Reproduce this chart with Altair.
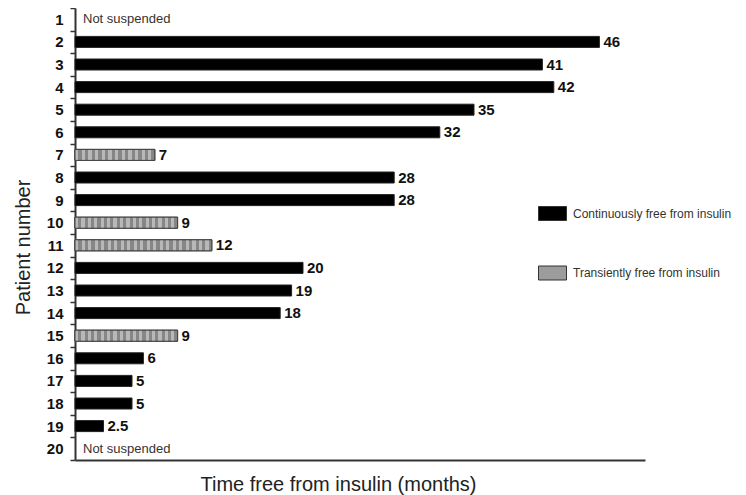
import altair as alt
import pandas as pd

patients = [str(i) for i in range(1, 21)]
months = [None, 46, 41, 42, 35, 32, 7, 28, 28, 9, 12, 20, 19, 18, 9, 6, 5, 5, 2.5, None]
status = ["Not suspended", "Continuously free from insulin", "Continuously free from insulin",
          "Continuously free from insulin", "Continuously free from insulin",
          "Continuously free from insulin", "Transiently free from insulin",
          "Continuously free from insulin", "Continuously free from insulin",
          "Transiently free from insulin", "Transiently free from insulin",
          "Continuously free from insulin", "Continuously free from insulin",
          "Continuously free from insulin", "Transiently free from insulin",
          "Continuously free from insulin", "Continuously free from insulin",
          "Continuously free from insulin", "Continuously free from insulin",
          "Not suspended"]
value_labels = ["", "46", "41", "42", "35", "32", "7", "28", "28", "9", "12", "20", "19",
                "18", "9", "6", "5", "5", "2.5", ""]

categories = ["Continuously free from insulin", "Transiently free from insulin"]
cat_colors = ["#000000", "#9c9c9c"]

df = pd.DataFrame({"patient": patients, "months": months, "status": status,
                   "label": value_labels})

FONT = "Liberation Sans"
W, H = 570, 452
XMAX = 50

y_enc = alt.Y("patient:N", sort=patients,
              scale=alt.Scale(paddingInner=0, paddingOuter=0),
              axis=alt.Axis(title="Patient number", tickBand="extent", ticks=True,
                            tickSize=5, tickColor="#333", tickWidth=1.5,
                            domainColor="#333", domainWidth=2,
                            labelFont=FONT, labelFontWeight="bold", labelFontSize=15,
                            labelColor="#111", labelPadding=7,
                            titleFont=FONT, titleFontSize=20, titleFontWeight="normal",
                            titleColor="#222", titleY=239, titleX=-52,
                            titleBaseline="middle", titleAnchor="middle"))

x_enc = alt.X("months:Q", scale=alt.Scale(domain=[0, XMAX], nice=False),
              axis=alt.Axis(title="Time free from insulin (months)", ticks=False,
                            labels=False, grid=False, domainColor="#333", domainWidth=2,
                            titleFont=FONT, titleFontSize=20, titleFontWeight="normal",
                            titleColor="#222", titleX=263, titlePadding=14))

base = alt.Chart(df)

bars = base.transform_filter("isValid(datum.months)").mark_bar(
    height=11, stroke="#222", strokeWidth=1
).encode(
    x=x_enc, y=y_enc,
    color=alt.Color("status:N", scale=alt.Scale(domain=categories, range=cat_colors),
                    legend=alt.Legend(title=None, orient="none", legendX=463, legendY=191,
                                      symbolType="M-1,-0.5H1V0.5H-1Z", symbolSize=784,
                                      symbolStrokeColor="#333", symbolStrokeWidth=1,
                                      labelFont=FONT, labelFontSize=12, labelColor="#333",
                                      labelOffset=6, rowPadding=35.5, labelLimit=400)),
)

# striped fill for transient bars (uniform stripe pitch)
stripe_layers = []
for p, m, s in zip(patients, months, status):
    if s != "Transiently free from insulin":
        continue
    w = m * W / XMAX
    n = max(1, round(w / 6.6))
    stops = []
    for k in range(n):
        a, b, c = k / n, (k + 0.5) / n, (k + 1) / n
        stops += [{"offset": a, "color": "#b8b8b8"}, {"offset": b, "color": "#b8b8b8"},
                  {"offset": b, "color": "#868686"}, {"offset": c, "color": "#868686"}]
    grad = {"gradient": "linear", "x1": 0, "x2": 1, "y1": 0, "y2": 0, "stops": stops}
    stripe_layers.append(
        base.transform_filter(alt.datum.patient == p).mark_bar(
            height=11, fill=grad, stroke="#444", strokeWidth=1
        ).encode(x="months:Q", y=alt.Y("patient:N", sort=patients))
    )

vals = base.transform_filter("isValid(datum.months)").mark_text(
    align="left", baseline="middle", dx=4, font=FONT, fontSize=15, fontWeight="bold",
    color="#111"
).encode(x="months:Q", y=alt.Y("patient:N", sort=patients), text="label:N")

ns = base.transform_filter("!isValid(datum.months)").mark_text(
    align="left", baseline="middle", dx=8, font=FONT, fontSize=13, color="#333"
).encode(x=alt.value(0), y=alt.Y("patient:N", sort=patients), text="status:N")

chart = alt.layer(bars, *stripe_layers, vals, ns).properties(
    width=W, height=H, autosize=alt.AutoSizeParams(type="none"),
    padding={"left": 67, "top": 0, "right": 93, "bottom": 35}
).configure(background="white").configure_view(stroke=None)

chart.save("out.html", embed_options={"renderer": "svg", "actions": False})
